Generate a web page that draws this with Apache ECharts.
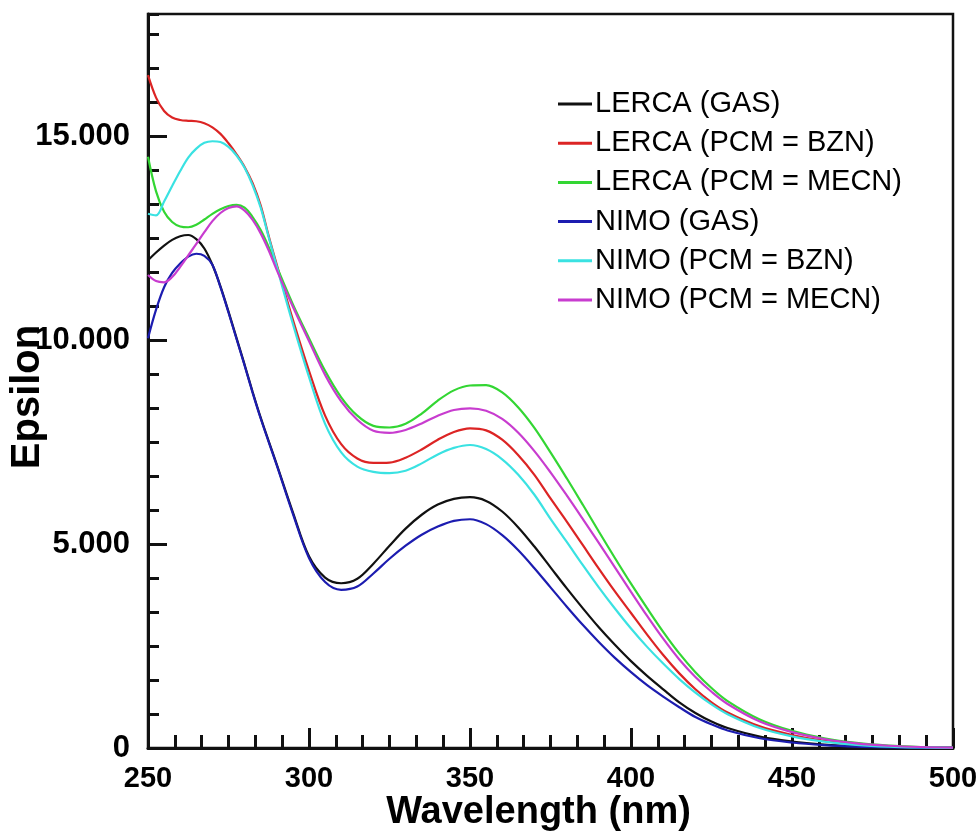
<!DOCTYPE html>
<html>
<head>
<meta charset="utf-8">
<script src="https://cdn.jsdelivr.net/npm/echarts@6/dist/echarts.min.js"></script>
<style>
html,body{margin:0;padding:0;background:#fff;}
#chart{width:977px;height:840px;}
</style>
</head>
<body>
<div id="chart"></div>
<script>
var wavelength = [250,252.5,255,257.5,260,262.5,265,267.5,270,272.5,275,277.5,280,282.5,285,287.5,290,295,300,305,310,315,320,325,330,335,340,345,350,355,360,365,370,375,380,385,390,395,400,405,410,415,420,425,430,440,450,460,470,480,490,500];

var seriesNames = ['LERCA (GAS)','LERCA (PCM = BZN)','LERCA (PCM = MECN)','NIMO (GAS)','NIMO (PCM = BZN)','NIMO (PCM = MECN)'];

var lercaGas = [11960,12150,12320,12460,12550,12580,12480,12250,11850,11320,10700,10050,9400,8730,8100,7520,6950,5780,4700,4180,4040,4150,4520,4960,5380,5720,5970,6110,6150,6060,5800,5410,4940,4430,3920,3430,2960,2530,2130,1770,1440,1120,860,650,490,280,160,85,40,18,6,2];
var lercaBzn = [16500,15950,15620,15460,15400,15380,15370,15320,15220,15060,14830,14560,14250,13850,13300,12550,11850,10500,9250,8150,7450,7100,6990,7000,7120,7320,7560,7750,7840,7790,7560,7180,6700,6120,5560,4980,4400,3840,3310,2780,2280,1830,1440,1120,870,530,320,175,90,42,16,6];
var lercaMecn = [14500,13650,13150,12900,12790,12770,12830,12960,13100,13210,13290,13320,13250,13020,12700,12280,11800,10880,10050,9250,8600,8150,7900,7860,7950,8200,8520,8770,8890,8900,8720,8350,7850,7250,6620,5970,5310,4660,4030,3430,2850,2320,1860,1470,1150,700,420,240,125,58,24,9];
var nimoGas = [10050,10750,11300,11650,11880,12050,12120,12070,11850,11300,10680,10030,9380,8710,8080,7500,6930,5740,4660,4070,3880,3960,4280,4640,4960,5230,5430,5570,5610,5490,5220,4850,4410,3940,3470,3020,2600,2210,1860,1540,1260,1000,760,580,430,240,135,72,34,15,5,1];
var nimoBzn = [13100,13060,13400,13780,14150,14480,14700,14840,14880,14860,14740,14530,14230,13800,13250,12520,11800,10400,9100,7950,7250,6900,6770,6740,6800,6980,7200,7360,7430,7330,7080,6700,6210,5620,5060,4490,3940,3420,2930,2480,2070,1690,1360,1070,830,490,285,155,78,34,13,4];
var nimoMecn = [11600,11450,11420,11550,11800,12080,12360,12650,12920,13120,13240,13280,13180,12950,12620,12200,11720,10820,9980,9150,8500,8050,7780,7730,7800,7960,8150,8290,8330,8270,8070,7730,7280,6760,6200,5620,5030,4430,3830,3240,2680,2170,1740,1380,1080,650,390,220,115,55,24,9];

var xMin = 250, xMax = 500, xStep = 50;
var yMin = 0, yMax = 18000, yStep = 5000, minorSplit = 6;

var allValues = [lercaGas, lercaBzn, lercaMecn, nimoGas, nimoBzn, nimoMecn];
var colors = ['#111111','#dc2424','#33d633','#1c1cb0','#3ae2e2','#c83ccf'];

function pairs(ys){ return wavelength.map(function(x,i){ return [x, ys[i]]; }); }

var series = allValues.map(function(ys, k){
  return {
    name: seriesNames[k], type: 'line', data: pairs(ys), smooth: 0.35,
    showSymbol: false, symbol: 'none', yAxisIndex: 0,
    lineStyle: {color: colors[k], width: 2.2}, itemStyle: {color: colors[k]}
  };
});

var font = 'Liberation Sans, Arial, sans-serif';
var chart = echarts.init(document.getElementById('chart'), null, {renderer: 'canvas'});
chart.setOption({
  animation: false,
  backgroundColor: '#ffffff',
  grid: {left: 148, right: 24, top: 14, bottom: 92, show: true, borderColor: '#111', borderWidth: 2.5, containLabel: false, outerBoundsMode: 'none'},
  legend: {
    orient: 'vertical', left: 553, top: 84, itemWidth: 34, itemHeight: 3, itemGap: 9.2, icon: 'rect',
    data: seriesNames,
    textStyle: {fontFamily: font, fontSize: 29, color: '#000', lineHeight: 30, padding: [0,0,0,-2]}
  },
  xAxis: {
    type: 'value', min: xMin, max: xMax, interval: xStep,
    name: 'Wavelength (nm)', nameLocation: 'middle', nameGap: 46, nameMoveOverlap: false,
    nameTextStyle: {fontFamily: font, fontSize: 38, fontWeight: 'bold', color: '#000', padding: [0, 24, 0, 0]},
    axisLine: {show: true, lineStyle: {color: '#111', width: 3}},
    axisTick: {show: true, inside: true, length: 20, lineStyle: {color: '#111', width: 3}},
    minorTick: {show: true, splitNumber: minorSplit, length: 13, lineStyle: {color: '#111', width: 3}},
    axisLabel: {fontFamily: font, fontSize: 29, fontWeight: 'bold', color: '#000', margin: 16},
    splitLine: {show: false}, minorSplitLine: {show: false}
  },
  yAxis: [{
    type: 'value', min: yMin, max: yMax, interval: yStep,
    name: 'Epsilon', nameLocation: 'middle', nameGap: 100, nameRotate: 90, nameMoveOverlap: false,
    nameTextStyle: {fontFamily: font, fontSize: 40, fontWeight: 'bold', color: '#000', padding: [0, 32, 0, 0]},
    axisLine: {show: true, lineStyle: {color: '#111', width: 3}},
    axisTick: {show: true, inside: true, length: 19, lineStyle: {color: '#111', width: 3}},
    axisLabel: {fontFamily: font, fontSize: 31, fontWeight: 'bold', color: '#000', margin: 18, showMaxLabel: false,
      formatter: function(v){ if (v % yStep !== 0) return ''; return v === 0 ? '0' : (v/1000).toFixed(3); }},
    splitLine: {show: false}
  },{
    type: 'value', min: yMin, max: yMax, interval: yStep / minorSplit, position: 'left',
    axisLine: {show: false},
    axisTick: {show: true, inside: true, length: 11, lineStyle: {color: '#111', width: 3}},
    axisLabel: {show: false}, splitLine: {show: false}
  }],
  series: series
});
</script>
</body>
</html>
